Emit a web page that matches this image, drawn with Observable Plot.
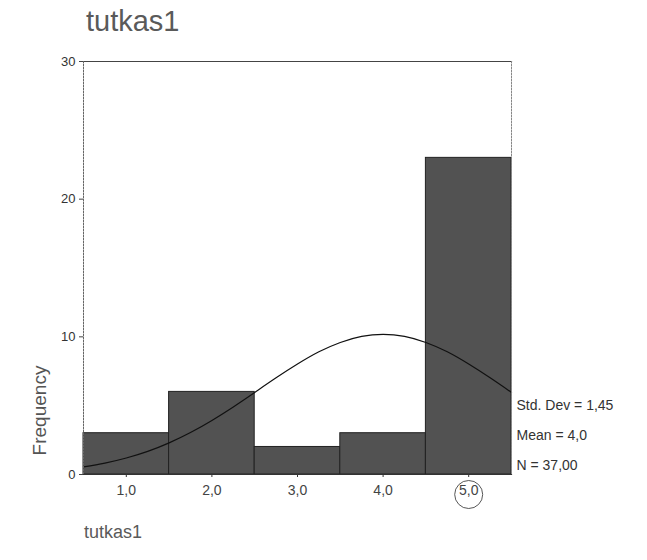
<!DOCTYPE html>
<html>
<head>
<meta charset="utf-8">
<script src="https://cdn.jsdelivr.net/npm/d3@7"></script>
<script src="https://cdn.jsdelivr.net/npm/@observablehq/plot@0.6"></script>
<style>
  html, body { margin: 0; padding: 0; background: #fff; }
  body { width: 647px; height: 560px; position: relative; overflow: hidden; font-family: "Liberation Sans", Arial, sans-serif; }
  #title { position: absolute; left: 86px; top: 4px; font-size: 29px; line-height: 34px; color: #5a5a5a; }
  #chart { position: absolute; left: 0; top: 50px; }
  #caption { position: absolute; left: 84px; top: 522px; font-size: 18px; line-height: 20px; color: #5a5a5a; }
</style>
</head>
<body>
<div id="title">tutkas1</div>
<div id="chart"></div>
<div id="caption">tutkas1</div>
<script>
// Histogram bins (category midpoints) and frequencies
const binValues = [1, 2, 3, 4, 5];
const binCounts = [3, 6, 2, 3, 23];
const binWidth = 1;

// Normal curve (x, frequency)
const curveX = [0.5, 0.75, 1.0, 1.25, 1.5, 1.75, 2.0, 2.25, 2.5, 2.75, 3.0, 3.25, 3.5, 3.75, 4.0, 4.25, 4.5, 4.75, 5.0, 5.25, 5.5];
const curveY = [0.55, 0.83, 1.2, 1.68, 2.3, 3.05, 3.93, 4.91, 5.96, 7.02, 8.02, 8.91, 9.59, 10.03, 10.18, 10.03, 9.59, 8.91, 8.02, 7.02, 5.96];

// Axis ticks
const yTicks = [0, 10, 20, 30];
const xTicks = [1, 2, 3, 4, 5];
const xTickLabels = ["1,0", "2,0", "3,0", "4,0", "5,0"];

// Summary statistics
const statLines = ["Std. Dev = 1,45", "Mean = 4,0", "N = 37,00"];

const bars = binValues.map((v, i) => ({x1: v - binWidth / 2, x2: v + binWidth / 2, y: binCounts[i]}));
const curve = curveX.map((x, i) => ({x, y: curveY[i]}));

const statMarks = statLines.map((line, i) =>
  Plot.text([line], {frameAnchor: "bottom-right", dx: 5, dy: -5 - (statLines.length - 1 - i) * 30,
    textAnchor: "start", fontSize: 14, fill: "#333"}));

const plot = Plot.plot({
  width: 647,
  height: 465,
  marginLeft: 83,
  marginRight: 136,
  marginTop: 11,
  marginBottom: 41,
  style: {fontFamily: "'Liberation Sans', Arial, sans-serif", background: "transparent", color: "#333"},
  x: {domain: [0.5, 5.5]},
  y: {domain: [0, 30]},
  marks: [
    Plot.rect(bars, {x1: "x1", x2: "x2", y1: 0, y2: "y", fill: "#525252", stroke: "#222", strokeWidth: 1}),
    Plot.line(curve, {x: "x", y: "y", stroke: "#111", strokeWidth: 1.2, curve: "natural"}),
    // frame: top solid, right & left dotted
    Plot.frame({anchor: "top", stroke: "#444", strokeWidth: 1.2}),
    Plot.frame({anchor: "right", stroke: "#888", strokeDasharray: "1.5,1.5"}),
    Plot.frame({anchor: "left", stroke: "#666", strokeDasharray: "1.5,1.5"}),
    Plot.frame({anchor: "bottom", stroke: "#333", strokeWidth: 1.2}),
    Plot.axisY(yTicks, {tickSize: 4, tickPadding: 4, fontSize: 13, label: null, stroke: "#444", fill: "#333"}),
    Plot.axisX(xTicks, {tickSize: 3, tickPadding: 8, fontSize: 14, label: null, tickFormat: (d) => xTickLabels[xTicks.indexOf(d)], fill: "#444"}),
    // hand-drawn circle around the last tick label
    Plot.dot([5], {x: (d) => d, frameAnchor: "bottom", dy: 20, r: 14, stroke: "#444", fill: "none", strokeWidth: 0.9}),
    Plot.text(["Frequency"], {frameAnchor: "bottom-left", dx: -38, dy: -64, rotate: -90, fontSize: 19, fill: "#555", textAnchor: "middle"}),
    ...statMarks
  ]
});
document.getElementById("chart").appendChild(plot);
</script>
</body>
</html>
